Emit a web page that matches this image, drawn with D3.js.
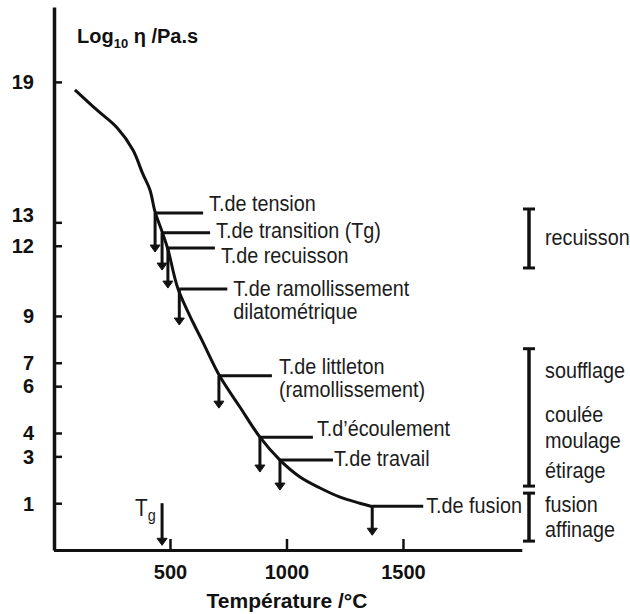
<!DOCTYPE html>
<html>
<head>
<meta charset="utf-8">
<script src="https://cdn.jsdelivr.net/npm/d3@7"></script>
<style>
  body { margin: 0; background: #fff; }
  svg { display: block; }
  text { font-family: "Liberation Sans", Arial, sans-serif; fill: #1c1c1c; }
</style>
</head>
<body>
<div id="chart"></div>
<script>
// viscosity curve (temperature in °C, log10 of viscosity in Pa.s)
var curveTemp = [92, 186, 273, 341, 382, 414, 436, 466, 491, 534, 599, 637, 714, 800, 886, 972, 1058, 1144, 1230, 1315, 1371];
var curveLog = [18.66, 17.8, 17.04, 16.09, 15.1, 14.38, 13.44, 12.6, 11.85, 10.17, 8.72, 7.97, 6.42, 5.11, 3.82, 2.84, 2.12, 1.65, 1.26, 1.0, 0.85];

// characteristic points
var pointNames = [
  ['T.de tension'],
  ['T.de transition (Tg)'],
  ['T.de recuisson'],
  ['T.de ramollissement', 'dilatométrique'],
  ['T.de littleton', '(ramollissement)'],
  ['T.d\u2019écoulement'],
  ['T.de travail'],
  ['T.de fusion']
];
var pointTemp = [436, 466, 491, 540, 710, 886, 972, 1368];
var pointLog = [13.4, 12.55, 11.9, 10.15, 6.45, 3.82, 2.84, 0.87];
var arrowTipLog = [11.73, 10.96, 10.19, 8.61, 5.06, 2.33, 1.56, -0.37];

// working ranges on the right
var rangeNames = [['recuisson'], ['soufflage', 'coulée', 'moulage', 'étirage'], ['fusion', 'affinage']];
var rangeTop = [13.57, 7.6, 1.43];
var rangeBottom = [11.05, 1.73, -0.62];

var yTicks = [19, 13, 12, 9, 7, 6, 4, 3, 1];
var xTicks = [500, 1000, 1500];
var tgTemp = 466;

var width = 630;
var height = 614;

var svg = d3.select('#chart')
  .append('svg')
  .attr('width', width)
  .attr('height', height);

var x = d3.scaleLinear().domain([0, 2010]).range([53.5, 521.8]);
var y = d3.scaleLinear().domain([-1, 22.2]).range([550, 7]);

// axes
var yAxis = d3.axisLeft(y)
  .tickValues(yTicks)
  .tickSizeInner(-8)
  .tickSizeOuter(0)
  .tickPadding(20)
  .tickFormat(d3.format('d'));

var gy = svg.append('g')
  .attr('transform', 'translate(54,0)')
  .call(yAxis);
gy.select('.domain').style('stroke', '#111').style('stroke-width', 3.5);
gy.selectAll('.tick line').style('stroke', '#111').style('stroke-width', 2.5);
gy.selectAll('.tick text')
  .style('font-size', '20px')
  .style('font-weight', 'bold')
  .style('fill', '#111')
  .attr('x', -20)
  .attr('dy', function(d) { return d === 13 ? '-0.02em' : '0.34em'; });

var xAxis = d3.axisBottom(x)
  .tickValues(xTicks)
  .tickSizeInner(-11)
  .tickSizeOuter(0)
  .tickPadding(15)
  .tickFormat(d3.format('d'));

var gx = svg.append('g')
  .attr('transform', 'translate(0,550)')
  .call(xAxis);
gx.select('.domain').style('stroke', '#111').style('stroke-width', 3);
gx.selectAll('.tick line').style('stroke', '#111').style('stroke-width', 2.5);
gx.selectAll('.tick text')
  .style('font-size', '20px')
  .style('font-weight', 'bold')
  .style('fill', '#111');

// axis titles
var yTitle = svg.append('text')
  .attr('x', 77)
  .attr('y', 43)
  .style('font-size', '20px')
  .style('font-weight', 'bold')
  .style('fill', '#111');
yTitle.append('tspan').text('Log');
yTitle.append('tspan').attr('dy', 5).style('font-size', '13px').text('10');
yTitle.append('tspan').attr('dy', -5).text(' \u03b7 /Pa.s');

svg.append('text')
  .attr('x', 287)
  .attr('y', 608)
  .style('text-anchor', 'middle')
  .style('font-size', '21px')
  .style('font-weight', 'bold')
  .style('fill', '#111')
  .text('Température /°C');

// curve
var curveData = curveTemp.map(function(t, i) { return [t, curveLog[i]]; });
var line = d3.line()
  .x(function(d) { return x(d[0]); })
  .y(function(d) { return y(d[1]); })
  .curve(d3.curveCatmullRom);

svg.append('path')
  .datum(curveData)
  .attr('d', line)
  .style('fill', 'none')
  .style('stroke', '#111')
  .style('stroke-width', 3);

// arrow pointing down, tip at (px, tipY)
function arrowDown(px, y0, tipY) {
  svg.append('line')
    .attr('x1', px).attr('x2', px)
    .attr('y1', y0).attr('y2', tipY - 5)
    .style('stroke', '#111').style('stroke-width', 3);
  svg.append('path')
    .attr('d', 'M' + (px - 5) + ',' + (tipY - 7) + 'L' + (px + 5) + ',' + (tipY - 7) + 'L' + px + ',' + tipY + 'Z')
    .style('fill', '#111')
    .style('stroke', '#111')
    .style('stroke-width', 1)
    .style('stroke-linejoin', 'round');
}

function narrowText(tx, ty, str, size) {
  return svg.append('text')
    .attr('transform', 'translate(' + tx + ',' + ty + ') scale(0.9,1)')
    .style('font-size', size + 'px')
    .text(str);
}

// characteristic points: horizontal leader + arrow down
var leaderLen = [48, 48, 47, 48, 53, 53, 53, 51];
var labelDx = [6, 6, 6, 6, 7, 4, 1, 3];
var labelDy = [-2, 5, 15, 7, -2, -1, 6, 7];

pointTemp.forEach(function(t, i) {
  var px = x(t), py = y(pointLog[i]);
  svg.append('line')
    .attr('x1', px).attr('x2', px + leaderLen[i])
    .attr('y1', py).attr('y2', py)
    .style('stroke', '#111').style('stroke-width', 3);
  arrowDown(px, py, y(arrowTipLog[i]));
  pointNames[i].forEach(function(s, j) {
    narrowText(px + leaderLen[i] + labelDx[i], py + labelDy[i] + j * 23, s, 22);
  });
});

// Tg marker near the bottom
arrowDown(x(tgTemp), y(1), y(-0.8));
var tg = narrowText(135, 516, 'T', 23);
tg.append('tspan').attr('dy', 5).style('font-size', '16px').text('g');

// range brackets on the right
var bx = 529;
var rangeLineY = [[245], [378, 422, 448, 478], [512, 537]];
rangeTop.forEach(function(top, i) {
  var y1 = y(top), y2 = y(rangeBottom[i]);
  svg.append('line')
    .attr('x1', bx).attr('x2', bx).attr('y1', y1).attr('y2', y2)
    .style('stroke', '#111').style('stroke-width', 3.5);
  [y1, y2].forEach(function(yy) {
    svg.append('line')
      .attr('x1', bx - 6).attr('x2', bx + 6).attr('y1', yy).attr('y2', yy)
      .style('stroke', '#111').style('stroke-width', 3);
  });
  rangeNames[i].forEach(function(s, j) {
    narrowText(545, rangeLineY[i][j], s, 22);
  });
});
</script>
</body>
</html>
